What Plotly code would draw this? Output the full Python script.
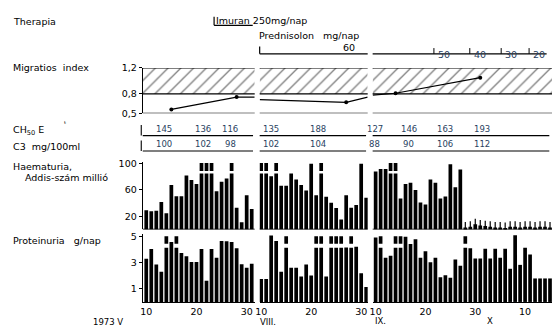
import plotly.graph_objects as go

W, H = 552, 335


def px(x):
    return x / W


def py(y):
    return 1 - y / H


# ---------------- data ----------------
# day numbers per segment (segment 3: September days, October continues as 31, 32, ...)
days_1 = list(range(10, 32))   # 1973 VII.
days_2 = list(range(10, 32))   # VIII.
days_3 = list(range(10, 46))   # IX. 10 - X. 15

# Haematuria, Addis count (million); None = above the scale (broken bar)
haem_1 = [29, 27.5, 28.5, 41.5, 24.5, 67.5, 50.5, 50.5, 82, 75, 69, None, None, None,
          58, 72.5, 77.5, None, 33, 11, 52, 31]
haem_2 = [None, None, 81, None, 66.5, 66.5, 85, 76, 67.5, 59, 100, 52, None, 49.5,
          40.5, 32.5, 15, 52, 33, 37, 100, 48]
haem_3 = [88, 92, 92, None, None, 47, 69, 71, 60, 41, 38, 76, 71, 47, 50, 99, 64, 91,
          3, 4, 8, 6, 5, 4, 3, 3, 2, 4, 4, 3, 4, 4, 3, 4, 4, 3]
haem_3_low = [0] * 18 + [1] * 18     # values at / below detection limit

# Proteinuria g/nap; None = above the scale
prot_1 = [3.31, 4.05, 2.86, 2.32, None, 4.6, None, 3.75, 3.5, 3.06, 3.06, 4.05, 1.63,
          4.05, 3.38, 4.67, 4.64, 4.6, 4.12, 2.89, 2.62, 2.93]
prot_2 = [1.75, 1.75, 5.09, 4.67, 2.32, None, 2.62, 2.62, 1.95, 2.86, 2.02, None, None,
          1.95, None, None, None, 4.17, None, 4.22, 2.2, 1.14]
prot_3 = [4.94, None, 3.38, 3.53, None, None, 5.0, 4.44, 4.8, 3.38, 3.88, 3.04, 3.38,
          1.9, 2.05, 1.85, 3.26, 2.77, None, 4.12, 3.33, 3.33, 4.07, 3.33, 4.07, 3.38,
          4.07, 2.54, 5.1, 2.84, 4.15, 3.63, 1.8, 1.8, 1.8, 1.8]

# Migration index (line runs on to segment edges; pt = measured point)
mig_1_x = [15, 28, 31.6]
mig_1_y = [0.56, 0.75, 0.75]
mig_1_pt = [1, 1, 0]
mig_2_x = [9.7, 27, 31.3]
mig_2_y = [0.71, 0.67, 0.75]
mig_2_pt = [0, 1, 0]
mig_3_x = [9.4, 14, 31]
mig_3_y = [0.78, 0.81, 1.05]
mig_3_pt = [0, 1, 1]
mig_norm = [0.8, 1.2]
mig_ticks = [0.5, 0.8, 1.2]
mig_ticktext = ["0,5", "0,8", "1,2"]

# CH50 and C3
ch50_days = [[13.5, 21.3, 26.7], [11.9, 21.4], [9.8, 16.6, 23.9, 31.3]]
ch50_vals = [["145", "136", "116"], ["135", "188"], ["127", "146", "163", "193"]]
c3_vals = [["100", "102", "98"], ["102", "104"], ["88", "90", "106", "112"]]

# Prednisolon dose steps (segment 3)
pred_days = [21.7, 28.9, 35.2, 40.8]
pred_doses = ["50", "40", "30", "20"]

haem_ticks = [20, 60, 100]
prot_ticks = [1, 3, 5]
bottom_ticks = [[10, 20, 30], [10, 20, 30], [10, 20, 30, 40]]
bottom_text = [["10", "20", "30"], ["10", "20", "30"], ["10", "20", "30", "10"]]

# ---------------- layout geometry ----------------
FONT = "DejaVu Sans"
seg_dom = [[px(139), px(252)], [px(257), px(366)], [px(371), 1.0]]
seg_rng = [[9.3, 31.6], [9.7, 31.3], [9.4, 45.4]]
xnames = ["x", "x2", "x3"]
HAEM_TOP = 102
PROT_TOP = 5.2
BAR_W = 0.74

fig = go.Figure()

segs = [
    (days_1, haem_1, prot_1, mig_1_x, mig_1_y, mig_1_pt),
    (days_2, haem_2, prot_2, mig_2_x, mig_2_y, mig_2_pt),
    (days_3, haem_3, prot_3, mig_3_x, mig_3_y, mig_3_pt),
]

shapes = []
annotations = []

for i, (days, haem, prot, mx, my, mpt) in enumerate(segs):
    xa = xnames[i]
    r0, r1 = seg_rng[i]
    # haematuria bars
    fig.add_trace(go.Bar(x=days, y=[85 if v is None else v for v in haem],
                         xaxis=xa, yaxis="y", width=BAR_W, marker_color="black",
                         marker_line_width=0, showlegend=False))
    ox = [d for d, v in zip(days, haem) if v is None]
    if ox:
        fig.add_trace(go.Bar(x=ox, y=[12] * len(ox), base=[89] * len(ox),
                             xaxis=xa, yaxis="y", width=BAR_W, marker_color="black",
                             marker_line_width=0, showlegend=False))
    # proteinuria bars
    fig.add_trace(go.Bar(x=days, y=[4.15 if v is None else v for v in prot],
                         xaxis=xa, yaxis="y2", width=BAR_W, marker_color="black",
                         marker_line_width=0, showlegend=False))
    ox = [d for d, v in zip(days, prot) if v is None]
    if ox:
        fig.add_trace(go.Bar(x=ox, y=[0.58] * len(ox), base=[4.45] * len(ox),
                             xaxis=xa, yaxis="y2", width=BAR_W, marker_color="black",
                             marker_line_width=0, showlegend=False))
    # migration hatch (normal range)
    fig.add_trace(go.Scatter(x=[r0, r1, r1, r0, r0],
                             y=[mig_norm[0], mig_norm[0], mig_norm[1], mig_norm[1], mig_norm[0]],
                             xaxis=xa, yaxis="y3", mode="lines", fill="toself",
                             fillcolor="white", line=dict(width=0),
                             fillpattern=dict(shape="/", size=9, solidity=0.15,
                                              fgcolor="black", bgcolor="white"),
                             hoverinfo="skip", showlegend=False))
    for yv in [0.5] + mig_norm:
        shapes.append(dict(type="line", xref=f"{xa} domain", yref="y3", x0=0, x1=1,
                           y0=yv, y1=yv, line=dict(color="black", width=1.3)))
    fig.add_trace(go.Scatter(x=mx, y=my, xaxis=xa, yaxis="y3", mode="lines",
                             line=dict(color="black", width=1.2), showlegend=False))
    fig.add_trace(go.Scatter(x=[x for x, p in zip(mx, mpt) if p],
                             y=[y for y, p in zip(my, mpt) if p],
                             xaxis=xa, yaxis="y3", mode="markers",
                             marker=dict(color="black", size=4), showlegend=False))
    # haematuria baseline
    shapes.append(dict(type="line", xref=f"{xa} domain", yref="y", x0=0, x1=1, y0=0, y1=0,
                       line=dict(color="black", width=1.3)))
    # CH50 / C3 rows
    for yy in (134, 150):
        shapes.append(dict(type="line", xref=f"{xa} domain", yref="paper", x0=0, x1=0.985,
                           y0=py(yy), y1=py(yy), line=dict(color="black", width=1.1)))
    for d, cv, c3 in zip(ch50_days[i], ch50_vals[i], c3_vals[i]):
        annotations.append(dict(x=d, y=py(127), xref=xa, yref="paper", text=cv,
                                showarrow=False, font=dict(family=FONT, size=8.5)))
        annotations.append(dict(x=d, y=py(142.5), xref=xa, yref="paper", text=c3,
                                showarrow=False, font=dict(family=FONT, size=8.5)))

# low markers on detection-limit haematuria values
lx = [d for d, f in zip(days_3, haem_3_low) if f]
ly = [v + 3 for v, f in zip(haem_3, haem_3_low) if f]
fig.add_trace(go.Scatter(x=lx, y=ly, xaxis="x3", yaxis="y", mode="markers",
                         marker=dict(symbol="line-ns-open", size=5, color="black",
                                     line=dict(width=1.2, color="black")),
                         showlegend=False))

# vertical starts of CH50 / C3 rows
shapes.append(dict(type="line", xref="paper", yref="paper", x0=px(137.5), x1=px(137.5),
                   y0=py(123), y1=py(134), line=dict(color="black", width=1.1)))
shapes.append(dict(type="line", xref="paper", yref="paper", x0=px(137.5), x1=px(137.5),
                   y0=py(139), y1=py(150), line=dict(color="black", width=1.1)))

# therapy row
for (x0, y0, x1, y1) in [(211, 11, 211, 20), (211, 20, 250, 20),
                         (257, 42, 257, 49.5), (257, 49.5, 366, 49.5)]:
    shapes.append(dict(type="line", xref="paper", yref="paper", x0=px(x0), x1=px(x1),
                       y0=py(y0), y1=py(y1), line=dict(color="black", width=1.2)))
shapes.append(dict(type="line", xref="x3 domain", yref="paper", x0=0, x1=0.97,
                   y0=py(49.5), y1=py(49.5), line=dict(color="black", width=1.2)))
for d, dose in zip(pred_days, pred_doses):
    shapes.append(dict(type="line", xref="x3", yref="paper", x0=d, x1=d,
                       y0=py(49.5), y1=py(43.5), line=dict(color="black", width=1)))
    annotations.append(dict(x=d, y=py(42), xref="x3", yref="paper", text=dose,
                            xanchor="left", xshift=2, showarrow=False,
                            font=dict(family=FONT, size=9.5)))


def label(x, y, text, size=9.5, anchor="left"):
    annotations.append(dict(x=px(x), y=py(y), xref="paper", yref="paper", text=text,
                            xanchor=anchor, yanchor="middle", showarrow=False,
                            font=dict(family=FONT, size=size, color="black")))


label(6, 16, "Therapia")
label(211, 15, "Imuran 250mg/nap")
label(254, 31, "Prednisolon")
label(319, 31, "mg/nap")
label(339, 43, "60")
label(6, 64, "Migratios  index")
label(6, 129, "CH<sub>50</sub> E")
label(58, 123, "ᵗ", size=8)
label(6, 145, "C3  mg/100ml")
label(6, 166, "Haematuria,")
label(18, 177, "Addis-szám millió")
label(6, 242, "Proteinuria   g/nap")
label(255, 327, "VIII.", size=8.5)
label(371, 326, "IX.", size=8.5)
label(484, 326, "X", size=8.5)
label(87, 327, "1973 V", size=8.5)

axis_common = dict(showgrid=False, zeroline=False, linecolor="black", color="black",
                   tickfont=dict(family=FONT, size=9.5, color="black"))

layout = dict(
    width=W, height=H, margin=dict(l=0, r=0, t=0, b=0),
    paper_bgcolor="white", plot_bgcolor="white", barmode="overlay",
    showlegend=False, shapes=shapes, annotations=annotations,
    yaxis=dict(domain=[py(231), py(231 - HAEM_TOP * 0.68)], range=[0, HAEM_TOP],
               anchor="x", showline=True, linewidth=1.2, ticks="outside", ticklen=3,
               tickvals=haem_ticks, **axis_common),
    yaxis2=dict(domain=[py(306), py(306 - PROT_TOP * 13.5)], range=[0, PROT_TOP],
                anchor="x", showline=True, linewidth=1.2, ticks="outside", ticklen=3,
                tickvals=prot_ticks, **axis_common),
    yaxis3=dict(domain=[py(111), py(64)], range=[0.5, 1.2], anchor="x", showline=True,
                linewidth=1.2, ticks="outside", ticklen=3, tickvals=mig_ticks,
                ticktext=mig_ticktext, **axis_common),
)
for i, xa in enumerate(xnames):
    key = "xaxis" if i == 0 else f"xaxis{i + 1}"
    layout[key] = dict(domain=seg_dom[i], range=seg_rng[i], anchor="y2", showline=True,
                       linewidth=1.3, ticks="", tickvals=bottom_ticks[i],
                       ticktext=bottom_text[i], **axis_common)

fig.update_layout(**layout)
fig.write_html("out.html", config={"displayModeBar": False},
               post_script="document.body.style.margin='0';document.body.style.overflow='hidden';")
